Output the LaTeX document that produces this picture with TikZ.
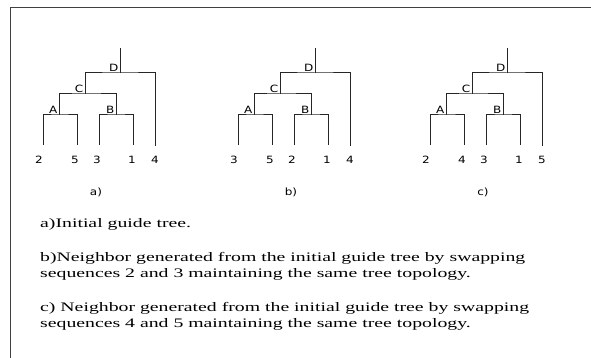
\documentclass[tikz,border=0pt]{standalone}
\usepackage{fontspec}
\usepackage{tikz}
\newfontfamily\treefont[FakeStretch=1.2]{DejaVu Sans}
\newfontfamily\notefont[FakeStretch=1.52]{Liberation Serif}
\tikzset{
  branch/.style={line width=1pt, black!85},
  frame/.style={line width=0.9pt, black!75},
  intl/.style={font=\treefont\fontsize{10}{12}\selectfont, anchor=south east, inner sep=1.5pt},
  leaf/.style={font=\treefont\fontsize{10}{12}\selectfont, inner sep=1pt},
  note/.style={font=\notefont\fontsize{13}{16}\selectfont, anchor=base west, inner sep=0pt},
}

%% one guide tree: prefix, shift, five leaf labels, caption
\newcommand{\guidetree}[8]{%
\begin{scope}[xshift=#2]
\coordinate (#1-top) at (120,48);
\coordinate (#1-D) at (120,73);
\coordinate (#1-C) at (85,94);
\coordinate (#1-A) at (59,115);
\coordinate (#1-B) at (116,115);
\coordinate (#1-e1) at (43,145);
\coordinate (#1-e2) at (77,145);
\coordinate (#1-e3) at (99,145);
\coordinate (#1-e4) at (133,145);
\coordinate (#1-e5) at (155,146);

\draw[branch] (#1-top) -- (#1-D);
\draw[branch] (#1-C) |- (#1-D) -| (#1-e5);
\draw[branch] (#1-A) |- (#1-C) -| (#1-B);
\draw[branch] (#1-e1) |- (#1-A) -| (#1-e2);
\draw[branch] (#1-e3) |- (#1-B) -| (#1-e4);

\node[intl] (#1-Dl) at (#1-D) {D};
\node[intl] (#1-Cl) at (#1-C) {C};
\node[intl] (#1-Al) at (#1-A) {A};
\node[intl] (#1-Bl) at (#1-B) {B};

\node[leaf] (#1-n1) at (39,160) {#3};
\node[leaf] (#1-n2) at (75,160) {#4};
\node[leaf] (#1-n3) at (97,160) {#5};
\node[leaf] (#1-n4) at (132,160) {#6};
\node[leaf] (#1-n5) at (155,160) {#7};

\node[leaf] (#1-cap) at (96,192) {#8};
\end{scope}}

\begin{document}
\begin{tikzpicture}[x=1pt, y=-1pt]
\useasboundingbox (0,0) rectangle (591,358);

%% frame: left and top only
\coordinate (fb) at (10,358);
\coordinate (fc) at (10,7);
\coordinate (fr) at (591,7);
\draw[frame] (fb) -- (fc) -- (fr);

\guidetree{a}{0}{2}{5}{3}{1}{4}{a)}
\guidetree{b}{195}{3}{5}{2}{1}{4}{b)}
\guidetree{c}{387}{2}{4}{3}{1}{5}{c)}

\node[note] (na) at (40,227) {a)Initial guide tree.};
\node[note] (nb1) at (40,261.5) {b)Neighbor generated from the initial guide tree by swapping};
\node[note] (nb2) at (40,277.5) {sequences 2 and 3 maintaining the same tree topology.};
\node[note] (nc1) at (40,311.5) {c) Neighbor generated from the initial guide tree by swapping};
\node[note] (nc2) at (40,327.5) {sequences 4 and 5 maintaining the same tree topology.};

\end{tikzpicture}
\end{document}
